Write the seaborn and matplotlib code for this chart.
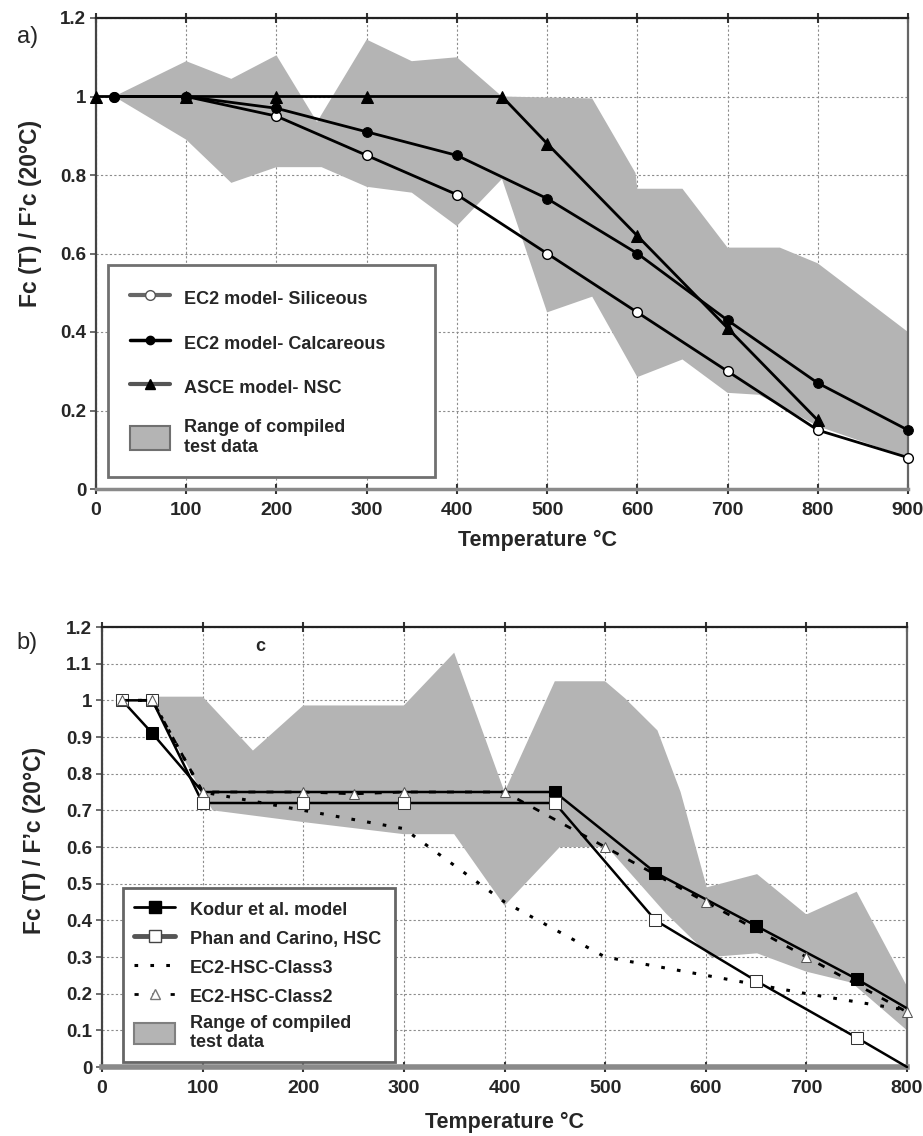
import numpy as np
import pandas as pd
import matplotlib
matplotlib.use("Agg")
import matplotlib.pyplot as plt
import seaborn as sns
from matplotlib.lines import Line2D
from matplotlib.patches import Patch

# ---------------- Panel a data ----------------
a_sil_T = [20, 100, 200, 300, 400, 500, 600, 700, 800, 900]
a_sil_v = [1.0, 1.0, 0.95, 0.85, 0.75, 0.60, 0.45, 0.30, 0.15, 0.08]
a_cal_T = [20, 100, 200, 300, 400, 500, 600, 700, 800, 900]
a_cal_v = [1.0, 1.0, 0.97, 0.91, 0.85, 0.74, 0.60, 0.43, 0.27, 0.15]
a_asce_T = [0, 100, 200, 300, 450, 500, 600, 700, 800]
a_asce_v = [1.0, 1.0, 1.0, 1.0, 1.0, 0.88, 0.645, 0.41, 0.175]
a_up_T = [20, 100, 150, 200, 245, 300, 350, 400, 450, 550, 598, 600, 650, 700, 758, 800, 900]
a_up_v = [1.0, 1.09, 1.045, 1.105, 0.935, 1.145, 1.09, 1.10, 1.0, 0.995, 0.805, 0.765, 0.765, 0.615, 0.615, 0.575, 0.40]
a_lo_T = [20, 100, 150, 200, 250, 300, 350, 400, 450, 500, 550, 600, 650, 700, 735, 800, 900]
a_lo_v = [1.0, 0.89, 0.78, 0.82, 0.82, 0.77, 0.755, 0.67, 0.79, 0.45, 0.49, 0.285, 0.33, 0.245, 0.24, 0.16, 0.08]
a_xticks = [0, 100, 200, 300, 400, 500, 600, 700, 800, 900]
a_yticks = [0, 0.2, 0.4, 0.6, 0.8, 1.0, 1.2]
a_ylabels = ["0", "0.2", "0.4", "0.6", "0.8", "1", "1.2"]

# ---------------- Panel b data ----------------
b_kod_T = [20, 50, 100, 200, 300, 450, 550, 650, 750, 800]
b_kod_v = [1.0, 0.91, 0.75, 0.75, 0.75, 0.75, 0.53, 0.385, 0.24, 0.16]
b_phan_T = [20, 50, 100, 200, 300, 450, 550, 650, 750, 800]
b_phan_v = [1.0, 1.0, 0.72, 0.72, 0.72, 0.72, 0.40, 0.235, 0.08, 0.0]
b_c3_T = [20, 50, 100, 200, 300, 400, 500, 600, 700, 800]
b_c3_v = [1.0, 1.0, 0.75, 0.70, 0.65, 0.45, 0.30, 0.25, 0.20, 0.155]
b_c2_T = [20, 50, 100, 200, 250, 300, 400, 500, 600, 700, 800]
b_c2_v = [1.0, 1.0, 0.75, 0.75, 0.745, 0.75, 0.75, 0.60, 0.45, 0.30, 0.15]
b_up_T = [50, 100, 150, 200, 300, 350, 400, 450, 500, 520, 552, 575, 601, 651, 700, 750, 800]
b_up_v = [1.01, 1.01, 0.863, 0.986, 0.986, 1.13, 0.75, 1.052, 1.052, 1.005, 0.918, 0.75, 0.49, 0.526, 0.416, 0.478, 0.22]
b_lo_T = [50, 97, 110, 200, 300, 350, 400, 455, 502, 560, 605, 651, 700, 745, 800]
b_lo_v = [1.0, 0.76, 0.70, 0.668, 0.635, 0.635, 0.44, 0.60, 0.60, 0.42, 0.30, 0.31, 0.26, 0.23, 0.10]
b_xticks = [0, 100, 200, 300, 400, 500, 600, 700, 800]
b_yticks = [0, 0.1, 0.2, 0.3, 0.4, 0.5, 0.6, 0.7, 0.8, 0.9, 1.0, 1.1, 1.2]
b_ylabels = ["0", "0.1", "0.2", "0.3", "0.4", "0.5", "0.6", "0.7", "0.8", "0.9", "1", "1.1", "1.2"]

sns.set_theme(style="white")
plt.rcParams["font.family"] = ["Liberation Sans", "DejaVu Sans"]
plt.rcParams["font.weight"] = "bold"

GRAY = "#b4b4b4"
fig = plt.figure(figsize=(9.23, 11.36), dpi=100)
axa = fig.add_axes([96 / 923, 1 - 489 / 1136, 812 / 923, 471 / 1136])
axb = fig.add_axes([102 / 923, 1 - 1067 / 1136, 805 / 923, 440 / 1136])


def style_axes(ax, xt, yt, ylab, xlim, bottom_lw):
    ax.set_xlim(*xlim)
    ax.set_ylim(0, 1.2)
    ax.set_xticks(xt)
    ax.set_yticks(yt)
    ax.set_yticklabels(ylab)
    ax.grid(True, color="#8c8c8c", linestyle=(0, (2, 2)), linewidth=0.8)
    ax.set_axisbelow(True)
    for s in ["top", "left", "right", "bottom"]:
        ax.spines[s].set_visible(True)
    ax.spines["top"].set_color("#222222")
    ax.spines["top"].set_linewidth(1.6)
    ax.spines["left"].set_color("#444444")
    ax.spines["left"].set_linewidth(1.6)
    ax.spines["right"].set_color("#666666")
    ax.spines["right"].set_linewidth(1.6)
    ax.spines["bottom"].set_color("#8a8a8a")
    ax.spines["bottom"].set_linewidth(bottom_lw)
    ax.tick_params(axis="x", which="both", bottom=True, top=True, direction="inout",
                   length=7, width=1.5, color="#333333", labelsize=14, pad=6)
    ax.tick_params(axis="y", left=True, direction="out", length=4, width=1.2,
                   color="#555555", labelsize=13.5, pad=3)
    for lab in ax.get_xticklabels() + ax.get_yticklabels():
        lab.set_fontweight("bold")
    ax.set_ylabel("Fc (T) / F\u2019c (20\u00b0C)", fontsize=16.5, fontweight="bold")
    ax.set_xlabel("Temperature \u00b0C", fontsize=15.5, fontweight="bold")


# ---------------- Panel a ----------------
axa.fill(np.concatenate([a_up_T, a_lo_T[::-1]]), np.concatenate([a_up_v, a_lo_v[::-1]]),
         color=GRAY, lw=0, zorder=1)
sns.lineplot(x=a_sil_T, y=a_sil_v, ax=axa, color="black", lw=2, marker="o", ms=7,
             mfc="white", mec="black", mew=1, legend=False, zorder=3, clip_on=False)
sns.lineplot(x=a_cal_T, y=a_cal_v, ax=axa, color="black", lw=2, marker="o", ms=7,
             mfc="black", mec="black", legend=False, zorder=3, clip_on=False)
sns.lineplot(x=a_asce_T, y=a_asce_v, ax=axa, color="black", lw=2, marker="^", ms=8,
             mfc="black", mec="black", legend=False, zorder=3, clip_on=False)
style_axes(axa, a_xticks, a_yticks, a_ylabels, (0, 900), 2.5)
axa.yaxis.set_label_coords(-0.066, 0.584)
axa.xaxis.set_label_coords(0.544, -0.086)

ha = [
    Line2D([], [], color="#666666", lw=3, marker="o", ms=7, mfc="white", mec="#555555"),
    Line2D([], [], color="black", lw=2.5, marker="o", ms=6, mfc="black", mec="black"),
    Line2D([], [], color="#555555", lw=3, marker="^", ms=7, mfc="black", mec="black"),
    Patch(facecolor=GRAY, edgecolor="#707070", lw=1.5),
]
la = ["EC2 model- Siliceous", "EC2 model- Calcareous", "ASCE model- NSC",
      "Range of compiled\ntest data"]
leg = axa.legend(ha, la, loc="lower left", bbox_to_anchor=(0.015, 0.025, 0.402, 0.529),
                 mode="expand", fancybox=False, framealpha=1, edgecolor="#707070",
                 prop={"size": 13, "weight": "bold"}, handlelength=2.2, handleheight=1.7,
                 labelspacing=1.1, borderpad=1.2, handletextpad=0.8, borderaxespad=0)
leg.get_frame().set_linewidth(2)

# ---------------- Panel b ----------------
axb.fill(np.concatenate([b_up_T, b_lo_T[::-1]]), np.concatenate([b_up_v, b_lo_v[::-1]]),
         color=GRAY, lw=0, zorder=1)
sns.lineplot(x=b_c3_T, y=b_c3_v, ax=axb, color="black", lw=2.2, linestyle=(0, (1.2, 4)),
             legend=False, zorder=2, clip_on=False)
sns.lineplot(x=b_kod_T, y=b_kod_v, ax=axb, color="black", lw=1.8, marker="s", ms=8,
             mfc="black", mec="black", markevery=[1, 5, 6, 7, 8], legend=False, zorder=3,
             clip_on=False)
sns.lineplot(x=b_phan_T, y=b_phan_v, ax=axb, color="black", lw=1.8, marker="s", ms=9,
             mfc="white", mec="#333333", markevery=[0, 1, 2, 3, 4, 5, 6, 7, 8], legend=False,
             zorder=3, clip_on=False)
sns.lineplot(x=b_c2_T, y=b_c2_v, ax=axb, color="black", lw=2.0, linestyle=(0, (2.5, 4)),
             marker="^", ms=7, mfc="white", mec="#555555", legend=False, zorder=4,
             clip_on=False)
style_axes(axb, b_xticks, b_yticks, b_ylabels, (0, 800), 4)
axb.yaxis.set_label_coords(-0.069, 0.516)
axb.xaxis.set_label_coords(0.5, -0.102)
axb.text(157, 1.148, "c", fontsize=13, fontweight="bold", ha="center", va="center")

hb = [
    Line2D([], [], color="black", lw=2, marker="s", ms=8, mfc="black", mec="black"),
    Line2D([], [], color="#555555", lw=3.5, marker="s", ms=8, mfc="white", mec="#444444"),
    Line2D([], [], color="black", lw=2.2, linestyle=(0, (1.2, 4))),
    Line2D([], [], color="black", lw=2, linestyle=(0, (1.5, 5)), marker="^", ms=7,
           mfc="white", mec="#777777"),
    Patch(facecolor=GRAY, edgecolor="#808080", lw=1.5),
]
lb = ["Kodur et al. model", "Phan and Carino, HSC", "EC2-HSC-Class3", "EC2-HSC-Class2",
      "Range of compiled\ntest data"]
legb = axb.legend(hb, lb, loc="lower left", bbox_to_anchor=(0.026, 0.011, 0.338, 0.453),
                  mode="expand", fancybox=False, framealpha=1, edgecolor="#666666",
                  prop={"size": 13, "weight": "bold"}, handlelength=2.3, handleheight=1.4,
                  labelspacing=0.45, borderpad=0.6, handletextpad=0.8, borderaxespad=0)
legb.get_frame().set_linewidth(2)

fig.text(28 / 923, 1 - 37 / 1136, "a)", fontsize=17, ha="center", va="center",
         fontweight="normal")
fig.text(27 / 923, 1 - 643 / 1136, "b)", fontsize=17, ha="center", va="center",
         fontweight="normal")

fig.savefig("out.png", dpi=100)
